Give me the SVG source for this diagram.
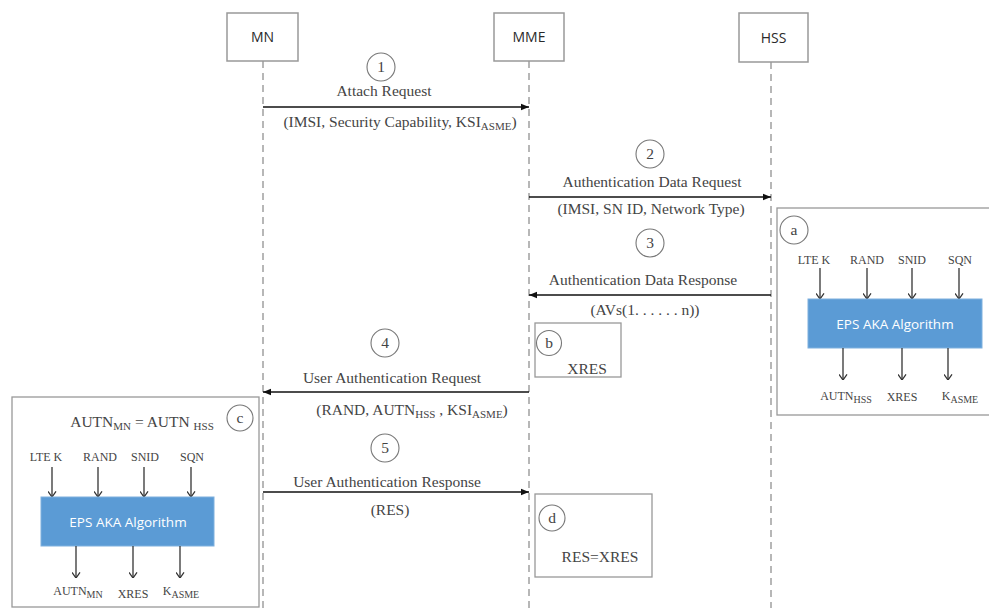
<svg xmlns="http://www.w3.org/2000/svg" width="989" height="608" viewBox="0 0 989 608">
  <defs>
    <marker id="arrow" viewBox="0 0 10 10" refX="10" refY="5" markerWidth="10" markerHeight="8" markerUnits="userSpaceOnUse" orient="auto">
      <path d="M0,1 L10,5 L0,9 z" fill="#111"/>
    </marker>
    <marker id="tip" viewBox="0 0 10 10" refX="10" refY="5" markerWidth="8" markerHeight="9" markerUnits="userSpaceOnUse" orient="auto">
      <path d="M3,0 L10,5 L3,10" fill="none" stroke="#333" stroke-width="1.6"/>
    </marker>
    <style>
      .actor { fill: #fff; stroke: #999; stroke-width: 1.5; }
      .actor-label { font-family: "Open Sans", "Liberation Sans", sans-serif; font-size: 14px; fill: #2a2a2a; text-anchor: middle; }
      .lifeline { stroke: #888; stroke-width: 1.2; stroke-dasharray: 7 5; fill: none; }
      .msg { stroke: #111; stroke-width: 1.4; fill: none; marker-end: url(#arrow); }
      .t { font-family: "Liberation Serif", "Times New Roman", serif; font-size: 15.5px; fill: #444; text-anchor: middle; }
      .ts { font-family: "Liberation Serif", "Times New Roman", serif; font-size: 12px; fill: #444; text-anchor: middle; }
      .sub { font-size: 11px; }
      .ts .sub { font-size: 10px; }
      .step { fill: #fff; stroke: #777; stroke-width: 1.1; }
      .frame { fill: #fff; stroke: #999; stroke-width: 1.3; }
      .algo { fill: #5b9bd5; stroke: #7fb0de; stroke-width: 1; }
      .algo-label { font-family: "Open Sans", "Liberation Sans", sans-serif; font-size: 13.5px; fill: #fff; text-anchor: middle; }
      .flow { stroke: #333; stroke-width: 1.3; fill: none; marker-end: url(#tip); }
    </style>
  </defs>

  <!-- lifelines -->
  <g id="lifelines">
    <line class="lifeline" x1="263" y1="61" x2="263" y2="608"/>
    <line class="lifeline" x1="529" y1="61" x2="529" y2="608"/>
    <line class="lifeline" x1="771" y1="62" x2="771" y2="608"/>
  </g>

  <!-- participants -->
  <g id="node-mn">
    <rect class="actor" x="227" y="13" width="71" height="48"/>
    <text class="actor-label" x="262.5" y="42">MN</text>
  </g>
  <g id="node-mme">
    <rect class="actor" x="494" y="13" width="70" height="48"/>
    <text class="actor-label" x="529" y="42">MME</text>
  </g>
  <g id="node-hss">
    <rect class="actor" x="739" y="13" width="69" height="49"/>
    <text class="actor-label" x="773.5" y="43">HSS</text>
  </g>

  <!-- messages -->
  <g id="connectors">
    <line class="msg" x1="263" y1="107" x2="529" y2="107"/>
    <line class="msg" x1="529" y1="197" x2="771" y2="197"/>
    <line class="msg" x1="771" y1="295" x2="529" y2="295"/>
    <line class="msg" x1="529" y1="392" x2="263" y2="392"/>
    <line class="msg" x1="263" y1="492" x2="529" y2="492"/>
  </g>

  <!-- message labels -->
  <g id="msg-1">
    <circle class="step" cx="381" cy="67" r="14"/>
    <text class="t" x="381" y="72">1</text>
    <text class="t" x="384" y="96">Attach Request</text>
    <text class="t" x="400" y="127">(IMSI, Security Capability, KSI<tspan class="sub" dy="3">ASME</tspan><tspan dy="-3">)</tspan></text>
  </g>
  <g id="msg-2">
    <circle class="step" cx="650" cy="154" r="14"/>
    <text class="t" x="650" y="159">2</text>
    <text class="t" x="652" y="187">Authentication Data Request</text>
    <text class="t" x="651" y="214">(IMSI, SN ID, Network Type)</text>
  </g>
  <g id="msg-3">
    <circle class="step" cx="650" cy="243" r="14"/>
    <text class="t" x="650" y="248">3</text>
    <text class="t" x="643" y="285">Authentication Data Response</text>
    <text class="t" x="645" y="315">(AVs(1. . . . . . n))</text>
  </g>
  <g id="msg-4">
    <circle class="step" cx="385" cy="343" r="14"/>
    <text class="t" x="385" y="348">4</text>
    <text class="t" x="392" y="383">User Authentication Request</text>
    <text class="t" x="412" y="415">(RAND, AUTN<tspan class="sub" dy="3">HSS</tspan><tspan dy="-3"> , KSI</tspan><tspan class="sub" dy="3">ASME</tspan><tspan dy="-3">)</tspan></text>
  </g>
  <g id="msg-5">
    <circle class="step" cx="385" cy="448" r="14"/>
    <text class="t" x="385" y="453">5</text>
    <text class="t" x="387" y="487">User Authentication Response</text>
    <text class="t" x="390" y="515">(RES)</text>
  </g>

  <!-- note b: MME keeps XRES -->
  <g id="note-b">
    <rect class="frame" x="535" y="323" width="86" height="54"/>
    <circle class="step" cx="549" cy="343" r="12.5"/>
    <text class="t" x="549" y="348">b</text>
    <text class="t" x="587" y="374">XRES</text>
  </g>

  <!-- note d: MME compares RES with XRES -->
  <g id="note-d">
    <rect class="frame" x="535" y="494" width="117" height="83"/>
    <circle class="step" cx="552" cy="518" r="13"/>
    <text class="t" x="552" y="523">d</text>
    <text class="t" x="600" y="562">RES=XRES</text>
  </g>

  <!-- note a: HSS generates authentication vectors -->
  <g id="note-a">
    <rect class="frame" x="777" y="208" width="214" height="207"/>
    <circle class="step" cx="794" cy="230" r="14"/>
    <text class="t" x="794" y="235">a</text>
    <text class="ts" x="814" y="264">LTE K</text>
    <text class="ts" x="867" y="264">RAND</text>
    <text class="ts" x="912" y="264">SNID</text>
    <text class="ts" x="960" y="264">SQN</text>
    <line class="flow" x1="820" y1="268" x2="820" y2="299"/>
    <line class="flow" x1="867" y1="268" x2="867" y2="299"/>
    <line class="flow" x1="912" y1="268" x2="912" y2="299"/>
    <line class="flow" x1="959" y1="268" x2="959" y2="299"/>
    <rect class="algo" x="808" y="299" width="174" height="49"/>
    <text class="algo-label" x="895" y="329">EPS AKA Algorithm</text>
    <line class="flow" x1="843" y1="348" x2="843" y2="380"/>
    <line class="flow" x1="902" y1="348" x2="902" y2="380"/>
    <line class="flow" x1="948" y1="348" x2="948" y2="380"/>
    <text class="ts" x="846" y="400">AUTN<tspan class="sub" dy="3">HSS</tspan></text>
    <text class="ts" x="902" y="401">XRES</text>
    <text class="ts" x="960" y="400">K<tspan class="sub" dy="3">ASME</tspan></text>
  </g>

  <!-- note c: MN verifies AUTN -->
  <g id="note-c">
    <rect class="frame" x="12" y="397" width="247" height="210"/>
    <circle class="step" cx="240" cy="418" r="13"/>
    <text class="t" x="240" y="423">c</text>
    <text class="t" x="142" y="427">AUTN<tspan class="sub" dy="3">MN</tspan><tspan dy="-3"> = AUTN </tspan><tspan class="sub" dy="3">HSS</tspan></text>
    <text class="ts" x="46" y="461">LTE K</text>
    <text class="ts" x="100" y="461">RAND</text>
    <text class="ts" x="145" y="461">SNID</text>
    <text class="ts" x="192" y="461">SQN</text>
    <line class="flow" x1="52" y1="467" x2="52" y2="497"/>
    <line class="flow" x1="98" y1="467" x2="98" y2="497"/>
    <line class="flow" x1="144" y1="467" x2="144" y2="497"/>
    <line class="flow" x1="191" y1="467" x2="191" y2="497"/>
    <rect class="algo" x="41" y="497" width="173" height="49"/>
    <text class="algo-label" x="128" y="527">EPS AKA Algorithm</text>
    <line class="flow" x1="76" y1="546" x2="76" y2="578"/>
    <line class="flow" x1="133" y1="546" x2="133" y2="578"/>
    <line class="flow" x1="180" y1="546" x2="180" y2="578"/>
    <text class="ts" x="78" y="595">AUTN<tspan class="sub" dy="3">MN</tspan></text>
    <text class="ts" x="133" y="598">XRES</text>
    <text class="ts" x="181" y="595">K<tspan class="sub" dy="3">ASME</tspan></text>
  </g>
</svg>
